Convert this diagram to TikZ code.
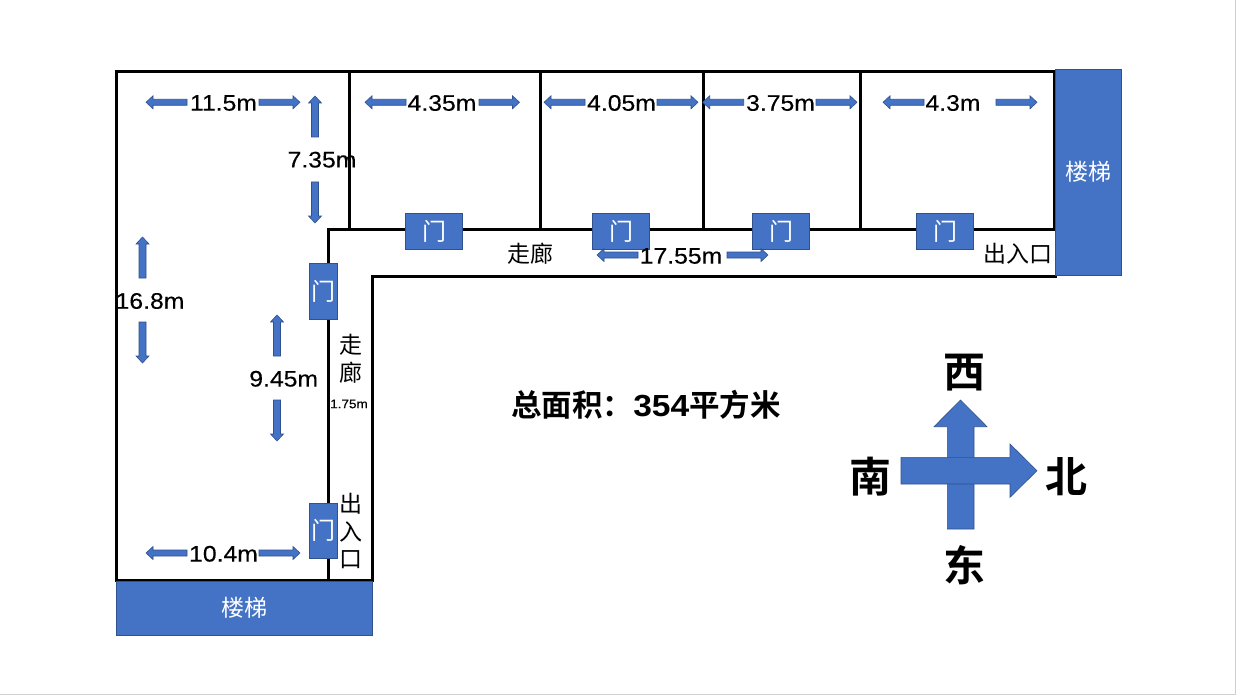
\documentclass[tikz,border=0pt]{standalone}
\usepackage{fontspec}
\setmainfont{Liberation Sans}
\newfontfamily\cjk{Noto Sans CJK SC}
\newfontfamily\cjkb{Noto Sans CJK SC Bold}
\newfontfamily\dimf[FakeStretch=1.1,FakeBold=0.25]{Liberation Sans}
\newfontfamily\dimb[FakeStretch=1.1]{Liberation Sans Bold}
\definecolor{bluefill}{HTML}{4472C4}
\definecolor{blueedge}{HTML}{2F528F}
\definecolor{pageedge}{HTML}{D0D0D0}
\tikzset{
  wall/.style={line width=3pt,draw=black,line cap=rect},
  bluebox/.style={fill=bluefill,draw=blueedge,line width=0.7pt},
  blocktip/.style={fill=bluefill,draw=blueedge,line width=0.6pt},
  door/.style={bluebox,inner sep=0pt,text=white,font=\fontsize{24}{24}\cjk},
  dim/.style={inner sep=0pt,text=black,font=\fontsize{22.5}{24}\dimf},
  cn/.style={inner sep=0pt,text=black,font=\fontsize{23}{24}\cjk},
  stairs/.style={bluebox,inner sep=0pt,text=white,font=\fontsize{23}{24}\cjk},
  compass/.style={inner sep=0pt,text=black,font=\fontsize{42}{44}\cjkb}
}
% horizontal block arrow: tail x, tip x, y
\newcommand{\harr}[3]{%
  \pgfmathsetmacro{\dirn}{#2>#1?1:-1}%
  \pgfmathsetmacro{\hb}{#2-\dirn*7}%
  \draw[blocktip] (#1,#3-3) -- (\hb,#3-3) -- (\hb,#3-6.5) -- (#2,#3) -- (\hb,#3+6.5) -- (\hb,#3+3) -- (#1,#3+3) -- cycle;}
% vertical block arrow: x, tail y, tip y
\newcommand{\varr}[3]{%
  \pgfmathsetmacro{\dirn}{#3>#2?1:-1}%
  \pgfmathsetmacro{\hb}{#3-\dirn*7}%
  \draw[blocktip] (#1-3.5,#2) -- (#1-3.5,\hb) -- (#1-6.5,\hb) -- (#1,#3) -- (#1+6.5,\hb) -- (#1+3.5,\hb) -- (#1+3.5,#2) -- cycle;}
\begin{document}
\begin{tikzpicture}[x=1pt,y=-1pt]
\useasboundingbox (0,0) rectangle (1236,695);
\fill[white] (0,0) rectangle (1236,695);
\draw[pageedge,line width=1pt] (1235.5,0) -- (1235.5,694.5) -- (0,694.5);

% walls
\draw[wall] (372,276.5) -- (372,580) -- (116.5,580) -- (116.5,71.5) -- (1054,71.5) -- (1054,229);
\draw[wall] (328,580) -- (328,229) -- (1054,229);
\draw[wall] (372,276.5) -- (1055,276.5);
\draw[wall] (349.5,71.5) -- (349.5,229);
\draw[wall] (540,71.5) -- (540,229);
\draw[wall] (703.5,71.5) -- (703.5,229);
\draw[wall] (860.5,71.5) -- (860.5,229);

% stairs
\node[stairs,minimum width=66pt,minimum height=206.5pt] (stairsN) at (1088.5,172.25) {楼梯};
\node[stairs,minimum width=256pt,minimum height=54.5pt] (stairsS) at (244.5,608.25) {楼梯};

% doors
\node[door,minimum width=57.5pt,minimum height=36pt] (d1) at (434,231.3) {门};
\node[door,minimum width=57.5pt,minimum height=36pt] (d2) at (621,231.3) {门};
\node[door,minimum width=57.5pt,minimum height=36pt] (d3) at (781,231.3) {门};
\node[door,minimum width=57.5pt,minimum height=36pt] (d4) at (945,231.3) {门};
\node[door,minimum width=28.5pt,minimum height=56pt] (d5) at (323.5,291) {门};
\node[door,minimum width=28.5pt,minimum height=55.5pt] (d6) at (323.5,530.75) {门};

% dimension arrows
\harr{187}{146}{102.3}\harr{259}{300}{102.3}
\harr{406}{365}{102.3}\harr{479}{519.5}{102.3}
\harr{585}{544}{102.3}\harr{657}{698}{102.3}
\harr{743.7}{702.7}{102.3}\harr{816}{857}{102.3}
\harr{924}{883}{102.3}\harr{996}{1037}{102.3}
\harr{638}{597}{255}\harr{727}{768}{255}
\harr{187}{146}{553}\harr{259}{300}{553}
\varr{315}{137}{96}\varr{315}{182}{223}
\varr{142.5}{278}{237}\varr{142.5}{322}{363}
\varr{277}{356}{315}\varr{277}{400}{441}

% dimension labels
\node[dim] (l1) at (223.5,103) {11.5m};
\node[dim] (l2) at (322,159.7) {7.35m};
\node[dim] (l3) at (150,301) {16.8m};
\node[dim] (l4) at (283.7,378.8) {9.45m};
\node[dim] (l5) at (223.5,553.8) {10.4m};
\node[dim] (l6) at (442,103) {4.35m};
\node[dim] (l7) at (621.5,103) {4.05m};
\node[dim] (l8) at (780.5,103) {3.75m};
\node[dim] (l9) at (953,103) {4.3m};
\node[dim] (l10) at (681,256) {17.55m};
\node[inner sep=0pt,font=\fontsize{12.3}{14}\dimf] (l11) at (349,404) {1.75m};

% corridor labels
\node[cn] (c1) at (530,254) {走廊};
\node[cn] (c2) at (1018,254) {出入口};
\node[cn] (c3) at (350.5,345) {走};
\node[cn] (c4) at (350.5,373) {廊};
\node[cn] (c5) at (350.5,504) {出};
\node[cn] (c6) at (350.5,532) {入};
\node[cn] (c7) at (350.5,560) {口};

% area
\node[inner sep=0pt,font=\fontsize{30.5}{32}\cjkb] (area) at (646,405) {总面积：{\dimb 354}平方米};

% compass
\draw[blocktip] (947.3,529) -- (947.3,426.7) -- (934,426.7) -- (960.5,400) -- (987,426.7) -- (974,426.7) -- (974,529) -- cycle;
\draw[blocktip] (901,457.3) -- (1010,457.3) -- (1010,444) -- (1037,470.7) -- (1010,497.3) -- (1010,484) -- (901,484) -- cycle;
\node[compass] (w) at (964.5,373) {西};
\node[compass] (s) at (870,477) {南};
\node[compass] (n) at (1066.5,477) {北};
\node[compass] (e) at (964.5,565.5) {东};
\end{tikzpicture}
\end{document}
